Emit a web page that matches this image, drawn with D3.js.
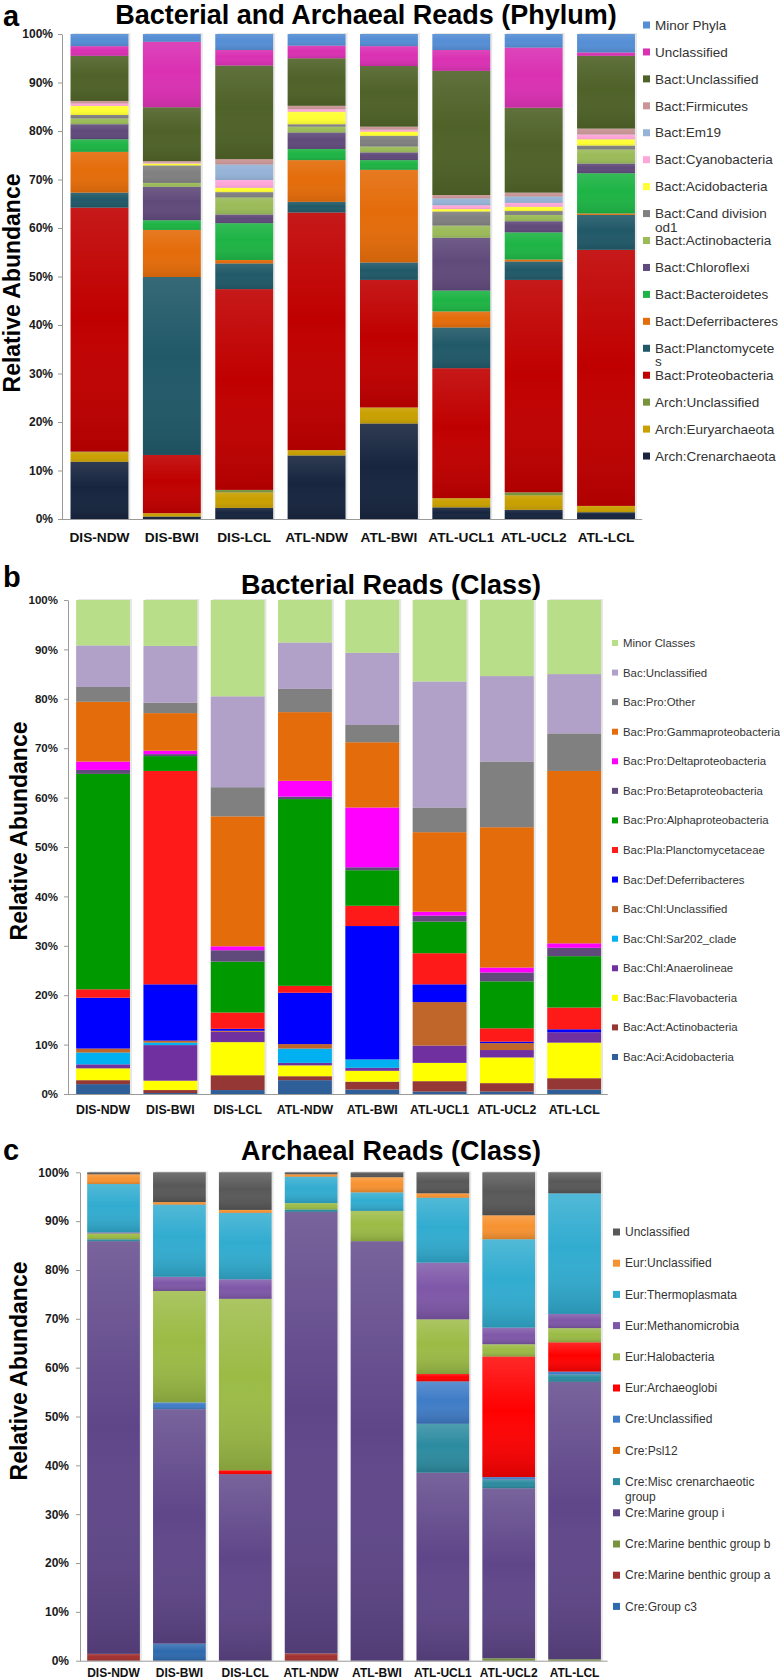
<!DOCTYPE html>
<html><head><meta charset="utf-8">
<script src="https://cdn.jsdelivr.net/npm/d3@7"></script>
<style>
body{margin:0;background:#fff}
svg{display:block}
text{font-family:"Liberation Sans",Arial,Helvetica,sans-serif}
</style>
</head><body>
<svg id="chart" width="780" height="1680"></svg>
<script>
// ---------------- DATA ----------------
const categories = ["DIS-NDW","DIS-BWI","DIS-LCL","ATL-NDW","ATL-BWI","ATL-UCL1","ATL-UCL2","ATL-LCL"];
const yTickValues = [0,10,20,30,40,50,60,70,80,90,100];

// Panel a: phylum (stack order bottom -> top)
const phylumNames = ["Arch:Crenarchaeota","Arch:Euryarchaeota","Arch:Unclassified","Bact:Proteobacteria",
  "Bact:Planctomycetes","Bact:Deferribacteres","Bact:Bacteroidetes","Bact:Chloroflexi","Bact:Actinobacteria",
  "Bact:Cand division od1","Bact:Acidobacteria","Bact:Cyanobacteria","Bact:Em19","Bact:Firmicutes",
  "Bact:Unclassified","Unclassified","Minor Phyla"];
const aCrenarchaeota   = [11.8, 0.5, 2.3, 13.1, 19.7, 2.4, 1.9, 1.4];
const aEuryarchaeota   = [2.0, 0.7, 3.2, 1.1, 3.3, 1.9, 3.0, 1.3];
const aArchUnclass     = [0.1, 0.0, 0.5, 0.0, 0.0, 0.0, 0.6, 0.0];
const aProteobacteria  = [50.3, 12.0, 41.4, 49.0, 26.3, 26.8, 43.8, 52.8];
const aPlanctomycetes  = [3.1, 36.7, 5.3, 2.2, 3.6, 8.4, 3.8, 7.2];
const aDeferribacteres = [8.4, 9.7, 0.7, 8.6, 19.1, 3.3, 0.4, 0.3];
const aBacteroidetes   = [2.6, 2.0, 7.6, 2.3, 2.0, 4.3, 5.6, 8.3];
const aChloroflexi     = [3.1, 6.9, 1.8, 3.4, 1.6, 10.9, 2.3, 2.0];
const aActinobacteria  = [1.2, 0.8, 3.5, 1.2, 1.2, 2.5, 1.3, 2.9];
const aCandOd1         = [0.7, 3.6, 1.1, 0.5, 2.2, 2.9, 0.8, 0.8];
const aAcidobacteria   = [1.9, 0.4, 0.9, 2.6, 0.9, 0.5, 0.9, 1.3];
const aCyanobacteria   = [0.5, 0.2, 1.6, 0.5, 0.4, 0.8, 0.8, 1.0];
const aEm19            = [0.0, 0.0, 3.2, 0.0, 0.0, 1.4, 1.3, 0.0];
const aFirmicutes      = [0.5, 0.3, 1.1, 0.7, 0.6, 0.7, 0.8, 1.2];
const aBactUnclass     = [9.3, 11.1, 19.3, 9.8, 12.5, 25.6, 17.5, 15.0];
const aUnclassified    = [2.0, 13.5, 3.2, 2.6, 4.1, 4.3, 12.4, 0.7];
const aMinorPhyla      = [2.5, 1.6, 3.3, 2.4, 2.5, 3.3, 2.8, 3.8];

// Panel b: bacterial class (bottom -> top)
const classNames = ["Bac:Aci:Acidobacteria","Bac:Act:Actinobacteria","Bac:Bac:Flavobacteria","Bac:Chl:Anaerolineae",
  "Bac:Chl:Sar202_clade","Bac:Chl:Unclassified","Bac:Def:Deferribacteres","Bac:Pla:Planctomycetaceae",
  "Bac:Pro:Alphaproteobacteria","Bac:Pro:Betaproteobacteria","Bac:Pro:Deltaproteobacteria",
  "Bac:Pro:Gammaproteobacteria","Bac:Pro:Other","Bac:Unclassified","Minor Classes"];
const bAcidobacteria  = [2.0, 0.2, 0.8, 2.8, 0.9, 0.5, 0.5, 0.9];
const bActinobacteria = [0.8, 0.6, 3.0, 0.8, 1.6, 2.1, 1.7, 2.3];
const bFlavobacteria  = [2.4, 1.9, 6.7, 2.2, 2.2, 3.7, 5.2, 7.2];
const bAnaerolineae   = [0.8, 7.2, 2.1, 0.5, 0.6, 3.5, 1.5, 2.1];
const bSar202         = [2.4, 0.5, 0.0, 2.9, 1.7, 0.0, 0.0, 0.0];
const bChlUnclass     = [0.8, 0.4, 0.2, 0.9, 0.0, 8.8, 1.4, 0.0];
const bDeferribacteres= [10.3, 11.4, 0.4, 10.4, 27.0, 3.6, 0.3, 0.6];
const bPlanctomyc     = [1.7, 43.2, 3.3, 1.4, 4.1, 6.3, 2.7, 4.4];
const bAlpha          = [43.6, 3.0, 10.3, 37.8, 7.2, 6.4, 9.5, 10.4];
const bBeta           = [0.8, 0.4, 2.3, 0.5, 0.6, 1.2, 1.8, 1.7];
const bDelta          = [1.7, 0.7, 0.8, 3.2, 12.1, 0.8, 1.0, 0.9];
const bGamma          = [12.1, 7.6, 26.3, 13.9, 13.2, 16.1, 28.4, 34.9];
const bProOther       = [3.0, 2.1, 5.9, 4.7, 3.5, 5.0, 13.3, 7.6];
const bBacUnclass     = [8.4, 11.5, 18.4, 9.4, 14.6, 25.5, 17.3, 12.0];
const bMinorClasses   = [9.2, 9.3, 19.5, 8.6, 10.7, 16.5, 15.4, 15.0];

// Panel c: archaeal class (bottom -> top)
const archNames = ["Cre:Group c3","Cre:Marine benthic group a","Cre:Marine benthic group b","Cre:Marine group i",
  "Cre:Misc crenarchaeotic group","Cre:Psl12","Cre:Unclassified","Eur:Archaeoglobi","Eur:Halobacteria",
  "Eur:Methanomicrobia","Eur:Thermoplasmata","Eur:Unclassified","Unclassified"];
const cGroupC3     = [0.0, 3.5, 0.0, 0.0, 0.0, 0.0, 0.0, 0.0];
const cMBGa        = [1.4, 0.0, 0.0, 1.5, 0.0, 0.0, 0.0, 0.0];
const cMBGb        = [0.0, 0.0, 0.0, 0.0, 0.0, 0.0, 0.5, 0.3];
const cMarineI     = [84.5, 48.0, 38.2, 90.4, 85.9, 38.5, 34.8, 56.8];
const cMisc        = [0.4, 0.0, 0.0, 0.5, 0.0, 10.0, 1.8, 1.5];
const cPsl12       = [0.0, 0.0, 0.0, 0.0, 0.0, 0.0, 0.0, 0.0];
const cCreUnclass  = [0.0, 1.4, 0.0, 0.0, 0.0, 8.7, 0.5, 0.6];
const cArchaeoglobi= [0.0, 0.0, 0.8, 0.0, 0.0, 1.5, 24.7, 6.0];
const cHalobact    = [1.2, 22.8, 35.1, 1.3, 6.2, 11.2, 2.5, 2.9];
const cMethano     = [0.2, 2.9, 4.0, 0.0, 0.0, 11.6, 3.4, 2.9];
const cThermo      = [9.9, 14.8, 13.6, 5.4, 3.8, 13.3, 18.1, 24.7];
const cEurUnclass  = [2.0, 0.5, 0.6, 0.5, 3.1, 0.9, 4.9, 0.0];
const cUnclassified= [0.4, 6.1, 7.7, 0.4, 1.0, 4.3, 8.8, 4.3];

// ---------------- STYLES ----------------
const phylumColors = ["#17253f","#c9a000","#77933c","#c00000","#215968","#e46c0a","#1eb445","#604a7b","#9bbb59",
  "#808080","#ffff33","#ffa6d9","#95b3d7","#c99595","#4f6228","#da31b3","#558ed5"];
const classColors = ["#2f5f98","#953735","#ffff00","#7030a0","#00b0f0","#c0662a","#0000ff","#ff1a1a",
  "#009900","#604a7b","#ff00ff","#e46c0a","#808080","#b1a0c7","#b9de8a"];
const archColors = ["#2e6aaf","#a1302e","#77933c","#5f4689","#2c8ba0","#e46c0a","#3f7cc7","#ff0000",
  "#9bbb45","#7e57a8","#31acd0","#f79230","#585858"];

const panels = [
  { title:"Bacterial and Archaeal Reads (Phylum)", letter:"a", letterY:26, titleX:366, titleY:24,
    x0:63.3, x1:642.2, axisX:62, yTop:34, yBot:519, xLabelY:542, xFont:13.7, tickFont:12, tickRight:53,
    yTitleX:20, yTitleC:283, legX:643, legY0:25, legStep:26.94, legFont:13.5, legMaxW:124, lineH:1.0, mark:7,
    names:phylumNames, colors:phylumColors, shade:0.10,
    values:[aCrenarchaeota,aEuryarchaeota,aArchUnclass,aProteobacteria,aPlanctomycetes,aDeferribacteres,
      aBacteroidetes,aChloroflexi,aActinobacteria,aCandOd1,aAcidobacteria,aCyanobacteria,aEm19,aFirmicutes,
      aBactUnclass,aUnclassified,aMinorPhyla] },
  { title:"Bacterial Reads (Class)", letter:"b", letterY:587, titleX:391, titleY:594,
    x0:69.4, x1:607.8, axisX:68, yTop:600, yBot:1094, xLabelY:1114, xFont:12.3, tickFont:11.5, tickRight:58,
    yTitleX:27, yTitleC:831, legX:612, legY0:643, legStep:29.57, legFont:11.4, legMaxW:165, lineH:1.3, mark:6,
    names:classNames, colors:classColors, shade:0.0,
    values:[bAcidobacteria,bActinobacteria,bFlavobacteria,bAnaerolineae,bSar202,bChlUnclass,bDeferribacteres,
      bPlanctomyc,bAlpha,bBeta,bDelta,bGamma,bProOther,bBacUnclass,bMinorClasses] },
  { title:"Archaeal Reads (Class)", letter:"c", letterY:1160, titleX:391, titleY:1160,
    x0:80.6, x1:607.5, axisX:80, yTop:1172.3, yBot:1660.7, xLabelY:1677, xFont:12, tickFont:12, tickRight:69,
    yTitleX:27, yTitleC:1371, legX:613, legY0:1232, legStep:31.2, legFont:12, legMaxW:158, lineH:1.3, mark:7,
    names:archNames, colors:archColors, shade:0.16,
    values:[cGroupC3,cMBGa,cMBGb,cMarineI,cMisc,cPsl12,cCreUnclass,cArchaeoglobi,cHalobact,cMethano,
      cThermo,cEurUnclass,cUnclassified] }
];

// ---------------- DRAW ----------------
const svg = d3.select("#chart");
const defs = svg.append("defs");
function addShade(id, a){
  const g = defs.append("linearGradient").attr("id", id).attr("x1",0).attr("y1",0).attr("x2",0).attr("y2",1);
  g.append("stop").attr("offset","0%").attr("stop-color","#fff").attr("stop-opacity", a);
  g.append("stop").attr("offset","45%").attr("stop-color","#fff").attr("stop-opacity", 0);
  g.append("stop").attr("offset","100%").attr("stop-color","#000").attr("stop-opacity", a*0.9);
}

const measurer = svg.append("text").attr("x",-1000).attr("y",-1000);
function textW(s, size){ measurer.attr("font-size", size).text(s); return measurer.node().getComputedTextLength(); }
function wrap(text, maxW, size){
  const words = text.split(" "); const lines = []; let cur = "";
  for (const w of words){
    const t = cur ? cur + " " + w : w;
    if (textW(t, size) <= maxW || !cur) cur = t; else { lines.push(cur); cur = w; }
  }
  while (textW(cur, size) > maxW){
    let k = cur.length - 1;
    while (k > 1 && textW(cur.slice(0,k), size) > maxW) k--;
    lines.push(cur.slice(0,k)); cur = cur.slice(k);
  }
  lines.push(cur);
  return lines;
}

panels.forEach((p, pi) => {
  const g = svg.append("g");
  const shadeId = "shade" + pi;
  addShade(shadeId, p.shade);

  const rows = categories.map((c, i) => {
    const r = {cat:c};
    p.names.forEach((n, k) => r[n] = p.values[k][i]);
    return r;
  });
  const stack = d3.stack().keys(p.names)(rows);

  const x = d3.scaleBand().domain(categories).range([p.x0, p.x1]).paddingInner(0.2).paddingOuter(0.1);
  const y = d3.scaleLinear().domain([0,100]).range([p.yBot, p.yTop]);

  g.append("g").selectAll("rect").data(categories).join("rect")
    .attr("x", d => x(d) + 2).attr("y", y(100) - 1)
    .attr("width", x.bandwidth()).attr("height", y(0) - y(100) + 1)
    .attr("fill", "#e6e6e6");

  const layers = g.append("g").selectAll("g").data(stack).join("g")
    .attr("fill", (d, k) => p.colors[k]);
  layers.selectAll("rect").data(d => d.filter(s => s[1] - s[0] > 0)).join("rect")
    .attr("x", d => x(d.data.cat)).attr("width", x.bandwidth())
    .attr("y", d => y(d[1])).attr("height", d => y(d[0]) - y(d[1]));
  if (p.shade > 0){
    layers.selectAll("rect.sh").data(d => d.filter(s => s[1] - s[0] > 0)).join("rect")
      .attr("class","sh").attr("fill", `url(#${shadeId})`)
      .attr("x", d => x(d.data.cat)).attr("width", x.bandwidth())
      .attr("y", d => y(d[1])).attr("height", d => y(d[0]) - y(d[1]));
  }

  const ya = g.append("g").attr("transform", `translate(${p.axisX},0)`)
    .call(d3.axisLeft(y).tickValues(yTickValues).tickFormat(d => d + "%").tickSize(4).tickSizeOuter(0));
  ya.select(".domain").attr("stroke", "#9a9a9a");
  ya.selectAll(".tick line").attr("stroke", "#9a9a9a");
  ya.selectAll(".tick text").attr("x", -(p.axisX - p.tickRight)).attr("font-size", p.tickFont)
    .attr("font-weight", "bold").attr("fill", "#1a1a1a").attr("font-family", '"Liberation Sans",Arial,sans-serif');

  const xa = g.append("g").attr("transform", `translate(0,${p.yBot})`)
    .call(d3.axisBottom(x).tickSize(0).tickSizeOuter(0));
  xa.select(".domain").attr("stroke", "#9a9a9a").attr("d", `M${p.axisX},0.5H${p.x1}`);
  xa.selectAll(".tick text").attr("y", p.xLabelY - p.yBot).attr("dy", 0).attr("font-size", p.xFont)
    .attr("font-weight", "bold").attr("fill", "#111").attr("font-family", '"Liberation Sans",Arial,sans-serif');

  g.append("text").attr("x", 3).attr("y", p.letterY).attr("font-size", 29).attr("font-weight", "bold")
    .attr("fill", "#000").text(p.letter);
  g.append("text").attr("x", p.titleX).attr("y", p.titleY).attr("text-anchor", "middle")
    .attr("font-size", 27).attr("font-weight", "bold").attr("fill", "#000").text(p.title);
  g.append("text").attr("transform", `translate(${p.yTitleX},${p.yTitleC}) rotate(-90)`)
    .attr("text-anchor", "middle").attr("font-size", 23).attr("font-weight", "bold").attr("fill", "#000")
    .text("Relative Abundance");

  const legItems = p.names.map((n, k) => ({name:n, color:p.colors[k]})).reverse();
  const lg = g.append("g").selectAll("g").data(legItems).join("g")
    .attr("transform", (d, i) => `translate(${p.legX},${p.legY0 + i * p.legStep})`);
  lg.append("rect").attr("x", 0).attr("y", -p.mark / 2).attr("width", p.mark).attr("height", p.mark)
    .attr("fill", d => d.color);
  lg.append("text").attr("x", p.mark + 5).attr("y", 0)
    .attr("font-size", p.legFont).attr("fill", "#333")
    .each(function(d){
      const lines = wrap(d.name, p.legMaxW, p.legFont);
      const t = d3.select(this);
      lines.forEach((ln, li) => t.append("tspan").attr("x", p.mark + 5)
        .attr("dy", li === 0 ? "0.35em" : p.lineH + "em").text(ln));
    });
});
measurer.remove();
</script>
</body></html>
